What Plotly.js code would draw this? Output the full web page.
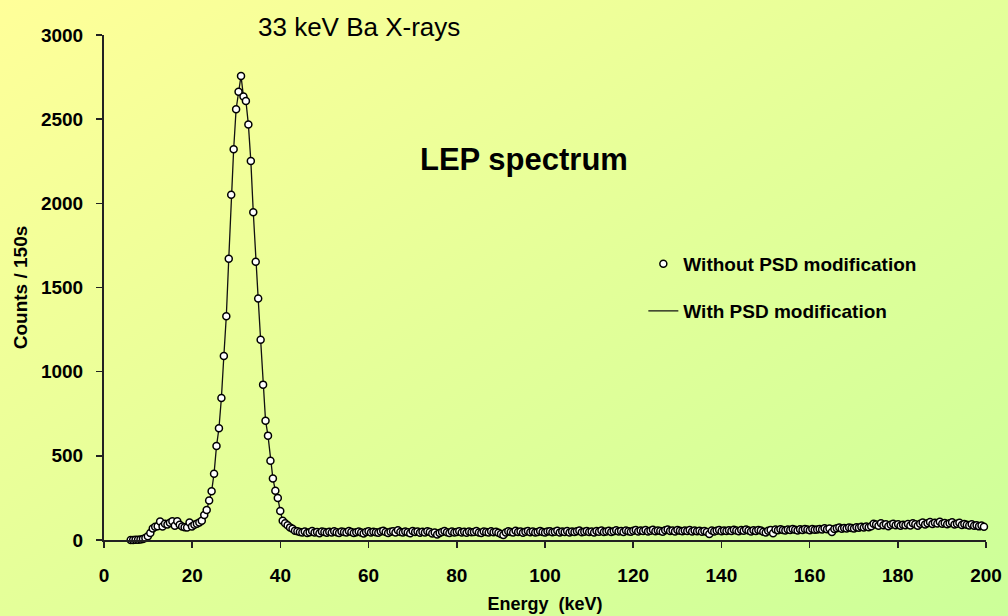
<!DOCTYPE html>
<html>
<head>
<meta charset="utf-8">
<script src="https://cdn.plot.ly/plotly-3.0.1.min.js"></script>
<style>
html,body{margin:0;padding:0;}
body{width:1008px;height:616px;overflow:hidden;background:linear-gradient(to bottom right,#FFFF99 0%,#E4FF99 50%,#CCFF99 100%);}
#chart{width:1008px;height:616px;}
</style>
</head>
<body>
<div id="chart"></div>
<script>
// Channel calibration (keV): first channel energy and channel width
const energyStart = 6.05;
const channelWidth = 0.556;

// Counts per channel (channels in order)
const lowCounts = [0, 0, 1, 2, 3, 6, 12, 22, 42, 68, 79, 82, 110, 80, 97, 92, 103, 111, 85, 111, 90, 80, 76, 74, 104, 80, 90, 96, 104];
const peakCounts = [115, 149, 178, 234, 289, 394, 558, 664, 844, 1093, 1329, 1671, 2051, 2321, 2559, 2663, 2757, 2634, 2608, 2469, 2252, 1947, 1653, 1434, 1190, 923, 709, 620, 471, 366, 293, 250, 172, 115, 99, 87, 75, 67, 55];
const tailCounts44to100 = [52, 47, 44, 50, 42, 46, 53, 45, 48, 40, 51, 47, 43, 49,
  45, 52, 46, 41, 50, 47, 44, 53, 48, 42, 46, 51, 45, 38, 47, 52, 44, 49,
  46, 43, 50, 55, 47, 41, 49, 52, 45, 58, 48, 44, 51, 46, 40, 53, 47, 50,
  43, 49, 45, 52, 47, 38, 44, 32, 41, 48, 53, 46, 42, 50, 45, 47, 52, 44,
  49, 43, 51, 46, 48, 54, 45, 42, 50, 47, 44, 52, 46, 49, 43, 36, 30, 45,
  52, 48, 44, 55, 47, 50, 43, 49, 53, 46, 51, 45, 48, 54, 47, 44, 50, 52];
const tailCounts100to160 = [46, 49, 55, 44, 51, 48, 53, 45, 50, 47, 52, 56, 46, 49, 54, 48, 51, 45,
  53, 49, 56, 47, 51, 55, 48, 52, 58, 50, 54, 47, 57, 52, 49, 55, 60, 51,
  56, 53, 59, 50, 55, 61, 52, 57, 54, 49, 58, 62, 53, 56, 51, 59, 55, 52,
  57, 54, 60, 50, 56, 52, 55, 49, 53, 48, 36, 57, 50, 55, 59, 52, 56, 54,
  58, 53, 61, 56, 52, 59, 55, 62, 57, 51, 58, 54, 60, 56, 49, 44, 55, 59,
  40, 62, 58, 64, 60, 56, 63, 59, 65, 61, 57, 64, 60, 66, 62, 58, 65, 61];
const tailCounts160to200 = [63, 66, 62, 70, 64, 68, 47, 65, 70, 74, 67, 72, 69, 75, 71, 68, 76, 73,
  78, 74, 80, 76, 82, 97, 92, 85, 99, 88, 94, 82, 90, 96, 87, 93, 84, 91,
  88, 95, 86, 100, 93, 85, 97, 104, 92, 99, 107, 95, 103, 98, 109, 96, 101, 94,
  99, 105, 92, 97, 102, 89, 95, 91, 86, 93, 84, 88, 81, 86, 79, 78];

const withoutPSD = [].concat(lowCounts, peakCounts, tailCounts44to100, tailCounts100to160, tailCounts160to200);
// The modified spectrum coincides with the unmodified one at this scale
const withPSD = withoutPSD.slice();

const seriesNames = ['Without PSD modification', 'With PSD modification'];
const xTitle = 'Energy \u00a0(keV)';
const yTitle = 'Counts / 150s';
const chartTitle = '33 keV Ba X-rays';
const chartLabel = 'LEP spectrum';

const FONT = '"Liberation Sans", Arial, Helvetica, sans-serif';

const traces = [
  {
    type: 'scatter', mode: 'lines', name: seriesNames[1], legend: 'legend2',
    x0: energyStart, dx: channelWidth, y: withPSD,
    line: {color: '#111', width: 1.3}, cliponaxis: false
  },
  {
    type: 'scatter', mode: 'markers', name: seriesNames[0], legend: 'legend',
    x0: energyStart, dx: channelWidth, y: withoutPSD,
    marker: {symbol: 'circle', size: 7, color: '#ffffff', line: {color: '#000', width: 1.5}},
    cliponaxis: false
  }
];

const axisCommon = {
  showgrid: false, zeroline: false, showline: true,
  linecolor: '#222', linewidth: 2, ticks: 'outside', ticklen: 6, tickwidth: 1.5, tickcolor: '#222',
  tickfont: {family: FONT, size: 19, weight: 'bold', color: '#000'},
  fixedrange: true
};

const layout = {
  width: 1008, height: 616,
  paper_bgcolor: 'rgba(0,0,0,0)', plot_bgcolor: 'rgba(0,0,0,0)',
  margin: {l: 104, r: 22, t: 35, b: 76, pad: 0},
  font: {family: FONT, color: '#000'},
  showlegend: true,
  xaxis: Object.assign({}, axisCommon, {
    range: [0, 200], tick0: 0, dtick: 20, ticklabelstandoff: 11,
    title: {text: xTitle, font: {family: FONT, size: 18, weight: 'bold'}, standoff: 13}
  }),
  yaxis: Object.assign({}, axisCommon, {
    range: [0, 3000], tick0: 0, dtick: 500, ticklabelstandoff: 9,
    title: {text: yTitle, font: {family: FONT, size: 19, weight: 'bold'}, standoff: 8}
  }),
  legend: {
    x: 0.6115, xanchor: 'left', y: 0.5465, yanchor: 'middle',
    bgcolor: 'rgba(0,0,0,0)', borderwidth: 0, itemwidth: 30,
    font: {family: FONT, size: 19, weight: 'bold', color: '#000'}
  },
  legend2: {
    x: 0.6115, xanchor: 'left', y: 0.4535, yanchor: 'middle',
    bgcolor: 'rgba(0,0,0,0)', borderwidth: 0, itemwidth: 30,
    font: {family: FONT, size: 19, weight: 'bold', color: '#000'}
  },
  annotations: [
    {text: chartTitle, xref: 'paper', yref: 'paper', x: 0.2893, y: 1.0158,
     xanchor: 'center', yanchor: 'middle', showarrow: false,
     font: {family: FONT, size: 26, color: '#000'}},
    {text: chartLabel, xref: 'paper', yref: 'paper', x: 0.4765, y: 0.7525,
     xanchor: 'center', yanchor: 'middle', showarrow: false,
     font: {family: FONT, size: 31, weight: 'bold', color: '#000'}}
  ]
};

Plotly.newPlot('chart', traces, layout, {displayModeBar: false, staticPlot: true});
</script>
</body>
</html>
